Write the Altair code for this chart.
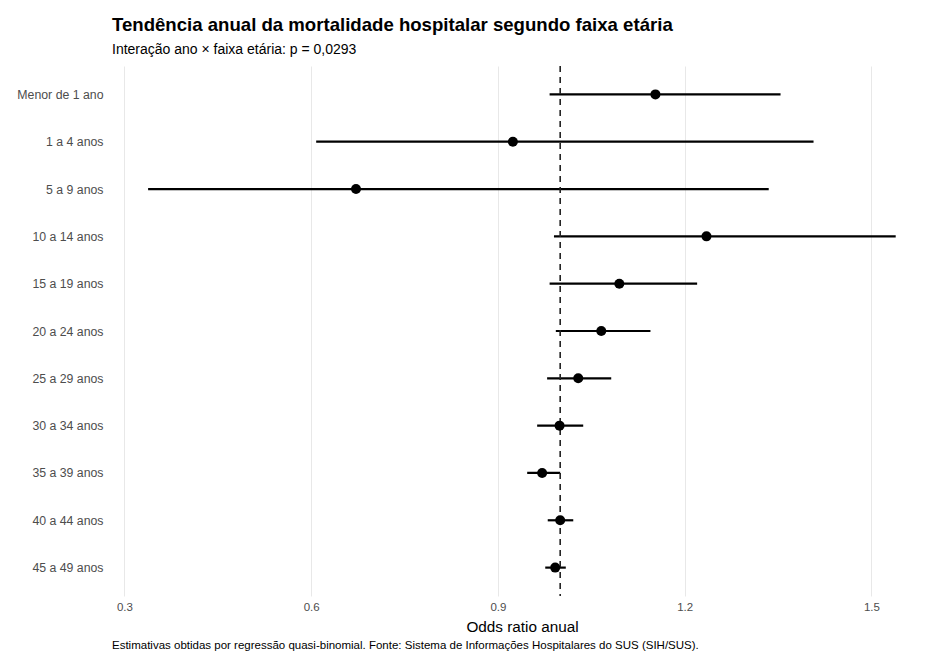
import altair as alt
import pandas as pd

categories = ["Menor de 1 ano", "1 a 4 anos", "5 a 9 anos", "10 a 14 anos", "15 a 19 anos",
              "20 a 24 anos", "25 a 29 anos", "30 a 34 anos", "35 a 39 anos", "40 a 44 anos",
              "45 a 49 anos"]
odds_ratio = [1.153, 0.924, 0.672, 1.235, 1.095, 1.066, 1.029, 0.999, 0.971, 1.000, 0.992]
ci_lower = [0.983, 0.608, 0.338, 0.990, 0.983, 0.993, 0.979, 0.963, 0.947, 0.980, 0.976]
ci_upper = [1.354, 1.407, 1.335, 1.539, 1.220, 1.145, 1.082, 1.037, 1.000, 1.021, 1.009]
x_ticks = [0.3, 0.6, 0.9, 1.2, 1.5]
reference = [1.0]

title = "Tendência anual da mortalidade hospitalar segundo faixa etária"
subtitle = "Interação ano × faixa etária: p = 0,0293"
x_title = "Odds ratio anual"
caption = ["Estimativas obtidas por regressão quasi-binomial. Fonte: Sistema de Informações Hospitalares do SUS (SIH/SUS)."]

df = pd.DataFrame({"faixa": categories, "or": odds_ratio, "lo": ci_lower, "hi": ci_upper})
ref_df = pd.DataFrame({"ref": reference})
cap_df = pd.DataFrame({"cap": caption})

W, H = 803, 530
FONT = "Liberation Sans"

xscale = alt.Scale(domain=[0.28, 1.57], nice=False, zero=False)
yscale = alt.Scale(type="point", domain=categories, padding=0.6)

xaxis = alt.Axis(values=x_ticks, format=".1f", grid=True, gridColor="#e8e8e8", gridWidth=1,
                 domain=False, ticks=False, labelFontSize=11.5, labelColor="#4d4d4d",
                 labelFont=FONT, labelPadding=5, title=x_title, titleFontSize=15.3,
                 titleFont=FONT, titleFontWeight="normal", titleColor="#000000", titlePadding=7,
                 titleX=410, titleAlign="center")
yaxis = alt.Axis(grid=False, domain=False, ticks=False, labelFontSize=12.3, labelColor="#4d4d4d",
                 labelFont=FONT, labelPadding=9, title=None)

base = alt.Chart(df)

bars = base.mark_rule(color="#000000", strokeWidth=2.2).encode(
    x=alt.X("lo:Q", scale=xscale, axis=xaxis),
    x2="hi:Q",
    y=alt.Y("faixa:N", scale=yscale, axis=yaxis, sort=categories),
)

points = base.mark_circle(color="#000000", size=100, opacity=1).encode(
    x=alt.X("or:Q", scale=xscale),
    y=alt.Y("faixa:N", scale=yscale, sort=categories),
)

refline = alt.Chart(ref_df).mark_rule(color="#222222", strokeDash=[6, 5], strokeWidth=1.6).encode(
    x=alt.X("ref:Q", scale=xscale),
)

cap = alt.Chart(cap_df).mark_text(align="left", baseline="middle", fontSize=11.5, font=FONT,
                                  color="#000000").encode(
    text="cap:N",
    x=alt.value(0),
    y=alt.value(H + 50),
)

chart = alt.layer(bars, refline, points, cap).properties(
    width=W, height=H,
    background="#ffffff",
    padding={"left": 8, "right": 2, "top": 7, "bottom": 0},
    title=alt.TitleParams(text=title, subtitle=subtitle, anchor="start", frame="group",
                          font=FONT, fontSize=18.6, fontWeight="bold", color="#000000",
                          subtitleFont=FONT, subtitleFontSize=14, subtitleColor="#000000",
                          subtitlePadding=9, offset=8),
).configure_view(strokeWidth=0)

chart.save("out.html", embed_options={"renderer": "svg", "actions": False})
